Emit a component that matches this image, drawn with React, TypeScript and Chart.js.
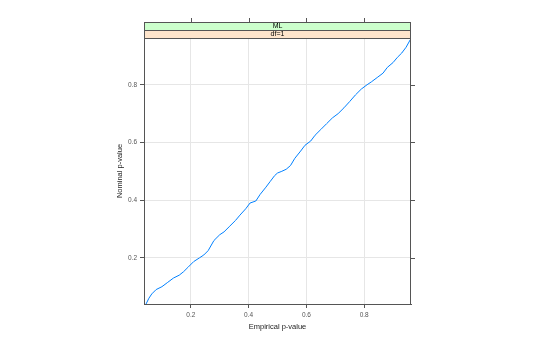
import React, { useEffect, useRef } from "react";
import { Chart, registerables } from "chart.js";

Chart.register(...registerables);

const empirical = [0.045, 0.055, 0.065, 0.08, 0.10, 0.12, 0.14, 0.16, 0.175, 0.19, 0.21, 0.23, 0.245, 0.26, 0.28, 0.30, 0.315, 0.335, 0.355, 0.37, 0.39, 0.405, 0.425, 0.44, 0.46, 0.475, 0.49, 0.50, 0.515, 0.53, 0.545, 0.56, 0.58, 0.595, 0.615, 0.63, 0.65, 0.67, 0.69, 0.71, 0.73, 0.75, 0.77, 0.79, 0.81, 0.825, 0.845, 0.865, 0.88, 0.90, 0.915, 0.93, 0.945, 0.96];
const nominal = [0.04, 0.06, 0.075, 0.09, 0.10, 0.115, 0.13, 0.14, 0.152, 0.167, 0.187, 0.20, 0.21, 0.225, 0.26, 0.28, 0.29, 0.31, 0.33, 0.348, 0.37, 0.39, 0.397, 0.42, 0.445, 0.465, 0.485, 0.494, 0.50, 0.507, 0.52, 0.545, 0.57, 0.59, 0.605, 0.625, 0.645, 0.665, 0.685, 0.70, 0.72, 0.742, 0.765, 0.785, 0.80, 0.81, 0.825, 0.84, 0.86, 0.877, 0.895, 0.91, 0.93, 0.957];
const xTicks = [0.2, 0.4, 0.6, 0.8];
const yTicks = [0.2, 0.4, 0.6, 0.8];
const stripLabels = ["ML", "df=1"];
const xTitle = "Empirical p-value";
const yTitle = "Nominal p-value";

const FONT = "'Liberation Sans', Arial, sans-serif";
const AXIS = "#555555";

export default function App() {
  const ref = useRef<HTMLCanvasElement>(null);
  useEffect(() => {
    if (!ref.current) return;
    const decor = {
      id: "decor",
      afterDraw(chart: any) {
        const { ctx, chartArea: a, scales } = chart;
        const L = Math.round(a.left);
        const R = Math.round(a.right);
        const T = Math.round(a.top);
        const B = Math.round(a.bottom);
        ctx.save();
        // strips
        const stripH = 8;
        const colors = ["#ccffcc", "#ffe5cc"];
        const top0 = T - 2 * stripH;
        stripLabels.forEach((lab, i) => {
          const y = top0 + i * stripH;
          ctx.fillStyle = colors[i];
          ctx.fillRect(L, y, R - L, stripH);
          ctx.strokeStyle = AXIS;
          ctx.lineWidth = 1;
          ctx.strokeRect(L + 0.5, y + 0.5, R - L - 1, stripH);
          ctx.fillStyle = "#000";
          ctx.font = `7px ${FONT}`;
          ctx.textAlign = "center";
          ctx.textBaseline = "middle";
          ctx.fillText(lab, (L + R) / 2, y + stripH / 2 + 0.5);
        });
        // panel box
        ctx.strokeStyle = AXIS;
        ctx.lineWidth = 1;
        ctx.strokeRect(L + 0.5, T + 0.5, R - L - 1, B - T);
        // top ticks
        ctx.beginPath();
        xTicks.forEach((v) => {
          const px = Math.round(scales.x.getPixelForValue(v)) + 0.5;
          ctx.moveTo(px, top0);
          ctx.lineTo(px, top0 - 4);
        });
        // right ticks
        yTicks.forEach((v) => {
          const py = Math.round(scales.y.getPixelForValue(v)) + 0.5;
          ctx.moveTo(R, py);
          ctx.lineTo(R + 4, py);
        });
        ctx.stroke();
        // titles
        ctx.fillStyle = "#222";
        ctx.font = `7.5px ${FONT}`;
        ctx.textAlign = "center";
        ctx.textBaseline = "middle";
        ctx.fillText(xTitle, (L + R) / 2, 327);
        ctx.translate(120, (T + B) / 2);
        ctx.rotate(-Math.PI / 2);
        ctx.fillText(yTitle, 0, 0);
        ctx.restore();
      },
    };
    const chart = new Chart(ref.current, {
      type: "line",
      data: {
        datasets: [
          {
            data: empirical.map((x, i) => ({ x, y: nominal[i] })),
            borderColor: "#0080ff",
            borderWidth: 1,
            pointRadius: 0,
            tension: 0,
            fill: false,
          },
        ],
      },
      options: {
        responsive: false,
        animation: false,
        devicePixelRatio: 1,
        layout: { padding: { left: 0, top: 38, right: 129, bottom: 0 } },
        plugins: { legend: { display: false }, tooltip: { enabled: false } },
        scales: {
          x: {
            type: "linear",
            min: 0.038,
            max: 0.962,
            afterBuildTicks: (s: any) => {
              s.ticks = xTicks.map((v) => ({ value: v }));
            },
            afterFit: (s: any) => {
              s.height = 33;
            },
            grid: { color: "#e6e6e6", tickColor: AXIS, tickLength: 4, lineWidth: 1 },
            border: { display: true, color: AXIS },
            ticks: { font: { size: 6.5, family: FONT }, color: "#555", padding: 3, maxRotation: 0, callback: (v: any) => String(v) },
          },
          y: {
            type: "linear",
            min: 0.04,
            max: 0.962,
            afterBuildTicks: (s: any) => {
              s.ticks = yTicks.map((v) => ({ value: v }));
            },
            afterFit: (s: any) => {
              s.width = 144;
            },
            grid: { color: "#e6e6e6", tickColor: AXIS, tickLength: 4, lineWidth: 1 },
            border: { display: true, color: AXIS },
            ticks: { font: { size: 6.5, family: FONT }, color: "#555", padding: 3, callback: (v: any) => String(v) },
          },
        },
      },
      plugins: [decor],
    } as any);
    return () => chart.destroy();
  }, []);
  return (
    <div style={{ position: "fixed", left: 0, top: 0, width: 540, height: 337, background: "#fff" }}>
      <canvas ref={ref} width={540} height={337} style={{ width: 540, height: 337 }} />
    </div>
  );
}
